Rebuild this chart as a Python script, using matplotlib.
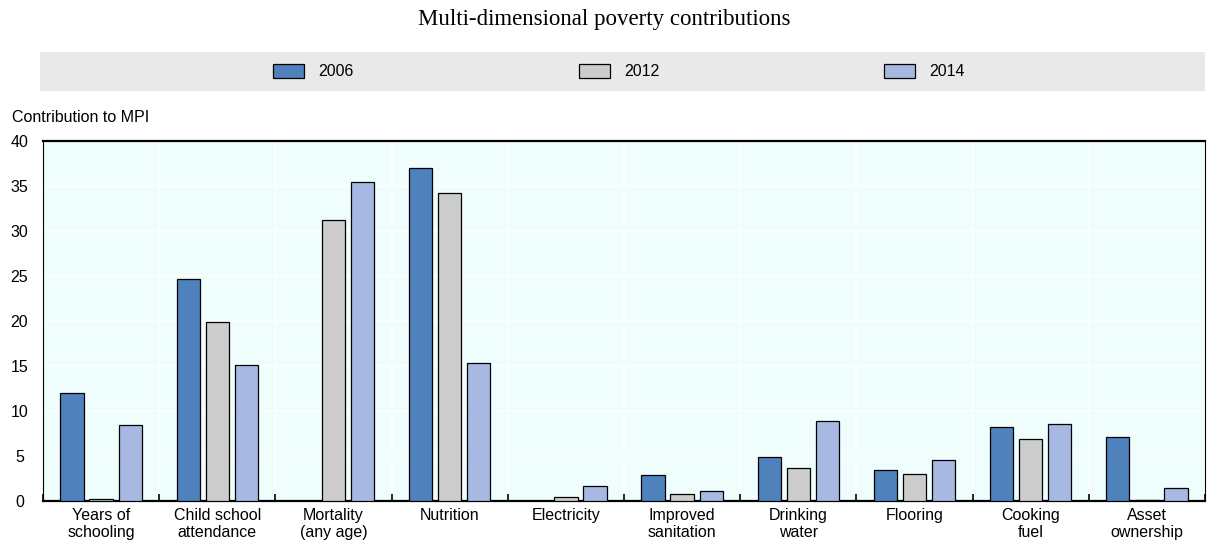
import numpy as np
import matplotlib
matplotlib.use("Agg")
import matplotlib.pyplot as plt
from matplotlib.patches import Rectangle

plt.rcParams['font.family'] = ['Liberation Sans', 'DejaVu Sans']

categories = ["Years of\nschooling", "Child school\nattendance", "Mortality\n(any age)",
              "Nutrition", "Electricity", "Improved\nsanitation", "Drinking\nwater",
              "Flooring", "Cooking\nfuel", "Asset\nownership"]
years = ["2006", "2012", "2014"]
v2006 = [12.0, 24.7, 0.0, 37.0, 0.0, 2.9, 4.9, 3.5, 8.2, 7.15]
v2012 = [0.2, 19.9, 31.2, 34.2, 0.4, 0.8, 3.65, 3.0, 6.9, 0.15]
v2014 = [8.4, 15.1, 35.4, 15.3, 1.7, 1.15, 8.85, 4.6, 8.6, 1.4]
colors = ["#4f81bd", "#cccccc", "#a7b9e3"]
fs = 11.5

fig = plt.figure(figsize=(12.08, 5.51), dpi=100)

# grey band behind the legend
fig.patches.append(Rectangle((40/1208, 1-91/551), 1165/1208, 39/551,
                             transform=fig.transFigure, facecolor="#e9e9e9",
                             edgecolor="none", zorder=0))
fig.text(0.5, 1-20/551, "Multi-dimensional poverty contributions", ha="center", va="center",
         fontsize=16.5, family="Liberation Serif")

ax = fig.add_axes([43/1208, 1-501/551, 1162/1208, 360/551])
ax.set_facecolor("#f0fdfd")

x = np.arange(len(categories))
w = 0.2
pitch = 0.25
bars = []
for i, (vals, c) in enumerate(zip([v2006, v2012, v2014], colors)):
    b = ax.bar(x + (i - 1) * pitch, vals, width=w, color=c, edgecolor="black",
               linewidth=0.9, label=years[i], zorder=3)
    bars.append(b)

ax.set_xlim(-0.5, len(categories) - 0.5)
ax.set_ylim(0, 40)
ax.set_yticks(np.arange(0, 41, 5))
ax.set_xticks(x)
ax.set_xticklabels(categories, fontsize=fs, linespacing=1.2)
ax.tick_params(axis="x", length=0, pad=5)
ax.tick_params(axis="y", length=0, labelsize=fs, pad=17)
for t in ax.get_yticklabels():
    t.set_horizontalalignment("center")
ax.set_xticks(np.arange(-0.5, len(categories), 1), minor=True)
ax.tick_params(axis="x", which="minor", length=5, width=1.2, direction="in")
ax.grid(axis="y", color="white", linewidth=1.2, zorder=1)
ax.grid(axis="x", which="minor", color="white", linewidth=1.2, zorder=1)

for s in ["left", "right"]:
    ax.spines[s].set_linewidth(0.8)
ax.spines["top"].set_linewidth(1.6)
ax.spines["bottom"].set_linewidth(1.6)

fig.text(12/1208, 1-117/551, "Contribution to MPI", ha="left", va="center", fontsize=fs)

fig.legend(handles=bars, labels=years, loc="center", bbox_to_anchor=(619/1208, 1-71.5/551),
           ncol=3, frameon=False, fontsize=fs, columnspacing=14.1, handlelength=1.95,
           handleheight=1.0, handletextpad=0.87)

fig.savefig("out.png", dpi=100)
